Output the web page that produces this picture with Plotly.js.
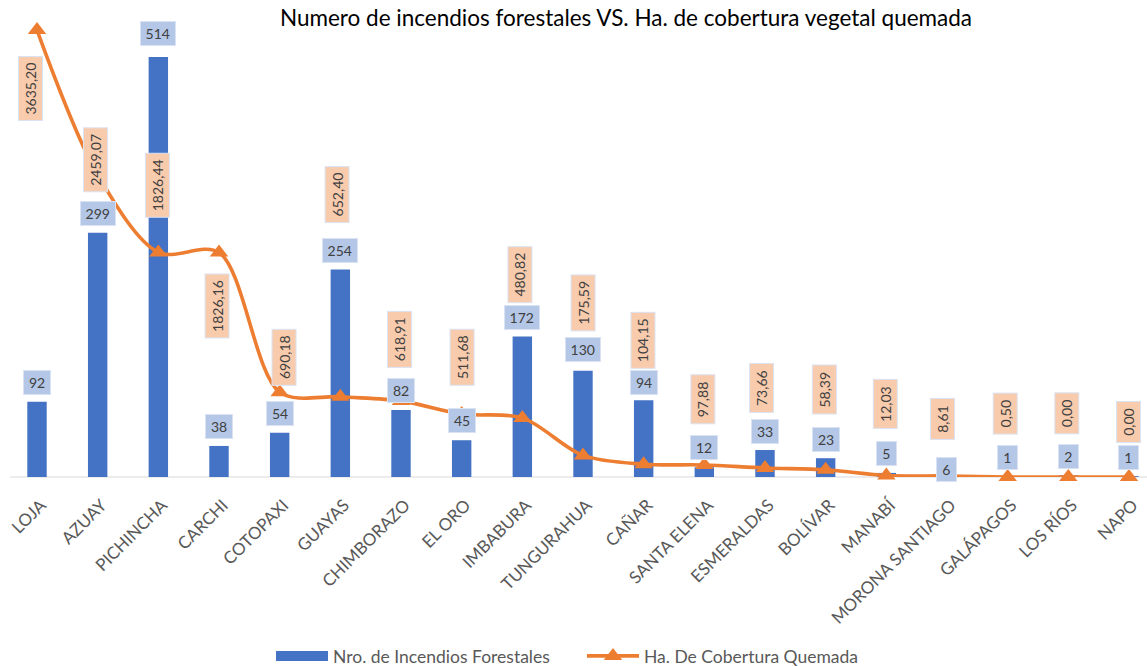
<!DOCTYPE html>
<html>
<head>
<meta charset="utf-8">
<script src="https://cdn.plot.ly/plotly-3.0.1.min.js"></script>
<style>html,body{margin:0;padding:0;background:#fff;}#chart{width:1147px;height:666px;}</style>
</head>
<body>
<div id="chart"></div>
<script>
// ---- data ----
const categories = ["LOJA","AZUAY","PICHINCHA","CARCHI","COTOPAXI","GUAYAS","CHIMBORAZO","EL ORO","IMBABURA","TUNGURAHUA","CAÑAR","SANTA ELENA","ESMERALDAS","BOLÍVAR","MANABÍ","MORONA SANTIAGO","GALÁPAGOS","LOS RÍOS","NAPO"];
const incendios = [92,299,514,38,54,254,82,45,172,130,94,12,33,23,5,6,1,2,1];
const hectareas = [3635.20,2459.07,1826.44,1826.16,690.18,652.40,618.91,511.68,480.82,175.59,104.15,97.88,73.66,58.39,12.03,8.61,0.50,0.00,0.00];
const seriesNames = ["Nro. de Incendios Forestales","Ha. De Cobertura Quemada"];
const chartTitle = "Numero de incendios forestales VS. Ha. de cobertura vegetal quemada";

// ---- label placement (pixels, style only) ----
const barLabelShift = [19,19,23,19,19,19,19,20,19,21,18,20,19,19,19,3,19,19,19];
const lineLabelShift = [-59,15,67,-54,35,202,61,57,143,153,124,66,80,80,72,57,63,64,55];
const lineLabelXShift = [-7,-2,-1,-2,4,-3,-1,0,-2,0,-1,-1,-3,-1,-1,-4,-2,-2,-1];

const FONT = "Lato, 'Liberation Sans', sans-serif";
const BLUE = '#4472c4', ORANGE = '#ed7d31';
const fmt = v => v.toFixed(2).replace('.', ',');

const barTrace = {
  type: 'bar', x: categories, y: incendios, name: seriesNames[0], showlegend: false,
  marker: {color: BLUE, line: {width: 0}},
  yaxis: 'y', hoverinfo: 'skip'
};
// legend-only entry so the key is drawn as a wide rectangle like the original
const barKey = {
  type: 'scatter', mode: 'lines', x: [null], y: [null], name: seriesNames[0],
  line: {color: BLUE, width: 10}, yaxis: 'y', hoverinfo: 'skip'
};
const lineTrace = {
  type: 'scatter', mode: 'lines+markers', x: categories, y: hectareas, name: seriesNames[1],
  line: {color: ORANGE, width: 3.6, shape: 'spline', smoothing: 0.9},
  marker: {symbol: 'triangle-up', size: 16, color: ORANGE},
  cliponaxis: false,
  yaxis: 'y2', hoverinfo: 'skip'
};

const annotations = [];
incendios.forEach((v, i) => {
  annotations.push({
    x: categories[i], y: v, xref: 'x', yref: 'y', text: String(v), showarrow: false,
    xanchor: 'center', yanchor: 'middle', yshift: barLabelShift[i],
    bgcolor: '#b4c7e7', bordercolor: '#dae3f3', borderwidth: 1, borderpad: 3,
    width: String(v).length * 7.5 + 5, height: 17,
    font: {family: FONT, size: 14, color: '#404040'}
  });
});
hectareas.forEach((v, i) => {
  const t = fmt(v);
  annotations.push({
    x: categories[i], y: v, xref: 'x', yref: 'y2', text: t, showarrow: false, textangle: -90,
    xanchor: 'center', yanchor: 'middle', yshift: lineLabelShift[i], xshift: lineLabelXShift[i],
    bgcolor: '#f8cbad', bordercolor: '#dae3f3', borderwidth: 1, borderpad: 3,
    width: t.length * 7.7 + 3, height: 17,
    font: {family: FONT, size: 14, color: '#404040'}
  });
});

const layout = {
  width: 1147, height: 666,
  margin: {l: 0, r: 0, t: 25, b: 189, autoexpand: false},
  paper_bgcolor: '#fff', plot_bgcolor: '#fff',
  font: {family: FONT, color: '#595959'},
  title: {text: chartTitle, x: 626/1147, xanchor: 'center', y: 1 - 18/666, yanchor: 'middle', yref: 'container',
          font: {family: FONT, size: 22.5, color: '#000'}},
  showlegend: true,
  legend: {orientation: 'h', xref: 'paper', yref: 'container', x: 271/1147, xanchor: 'left', y: 1 - 656/666, yanchor: 'middle',
           font: {family: FONT, size: 17.5, color: '#595959'}, itemwidth: 52,
           entrywidth: 244, entrywidthmode: 'pixels', traceorder: 'normal'},
  bargap: 0.68,
  xaxis: {type: 'category', range: [-0.61, 18.297], tickangle: -45, showgrid: false, zeroline: false, automargin: false,
          showline: false, ticks: '', ticklabelstandoff: 14, ticklabelshift: 4,
          tickfont: {family: FONT, size: 17, color: '#595959'}, fixedrange: true},
  yaxis: {range: [0, 553.1], visible: false, showgrid: false, zeroline: false, fixedrange: true},
  yaxis2: {range: [0, 3676], overlaying: 'y', side: 'right', visible: false, showgrid: false, zeroline: false, fixedrange: true},
  shapes: [{type: 'line', xref: 'paper', yref: 'paper', x0: 10/1147, x1: 1, y0: 0, y1: 0,
            line: {color: '#d9d9d9', width: 1.2}, layer: 'below'}],
  annotations: annotations,
  hovermode: false
};

Plotly.newPlot('chart', [barTrace, barKey, lineTrace], layout, {displayModeBar: false, staticPlot: true});
</script>
</body>
</html>
